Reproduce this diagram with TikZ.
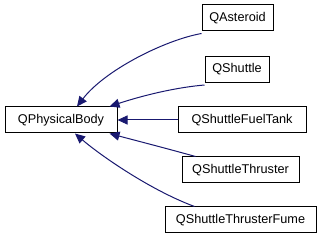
\documentclass[tikz,border=0pt]{standalone}
\usepackage{fontspec}
\setmainfont{Liberation Sans}
\usetikzlibrary{arrows.meta}
\begin{document}
\begin{tikzpicture}[x=1pt,y=-1pt,
  cls/.style={draw=black,line width=1pt,fill=white,inner sep=0pt,
    minimum height=26pt,font=\fontsize{12.7}{14}\selectfont},
  inherit/.style={draw={rgb,255:red,25;green,25;blue,112},line width=1pt,
    -{Triangle[length=10pt,width=9pt]}}]
  \useasboundingbox (0,0) rectangle (324,240);
  % base class
  \node[cls,minimum width=112pt] (pb) at (61,120) {QPhysicalBody};
  % derived classes
  \node[cls,minimum width=71pt]  (ast) at (237.5,18)  {QAsteroid};
  \node[cls,minimum width=64pt]  (shu) at (237,69.5)  {QShuttle};
  \node[cls,minimum width=128pt] (ft)  at (242,120)   {QShuttleFuelTank};
  \node[cls,minimum width=117pt] (thr) at (240.5,170) {QShuttleThruster};
  \node[cls,minimum width=151pt] (fum) at (240.5,220) {QShuttleThrusterFume};
  % inheritance edges
  \draw[inherit] ([yshift=-2pt]ast.south west) .. controls (165,40) and (105,70) .. ([xshift=16pt]pb.north);
  \draw[inherit] ([yshift=-2pt]shu.south west) .. controls (170,88) and (135,98) .. ([xshift=-8pt]pb.north east);
  \draw[inherit] (ft.west) -- (pb.east);
  \draw[inherit] ([xshift=14pt]thr.north west) .. controls (165,148) and (130,139) .. ([xshift=-8pt]pb.south east);
  \draw[inherit] ([xshift=30pt]fum.north west) .. controls (150,190) and (100,155) .. ([xshift=14pt]pb.south);
\end{tikzpicture}
\end{document}
